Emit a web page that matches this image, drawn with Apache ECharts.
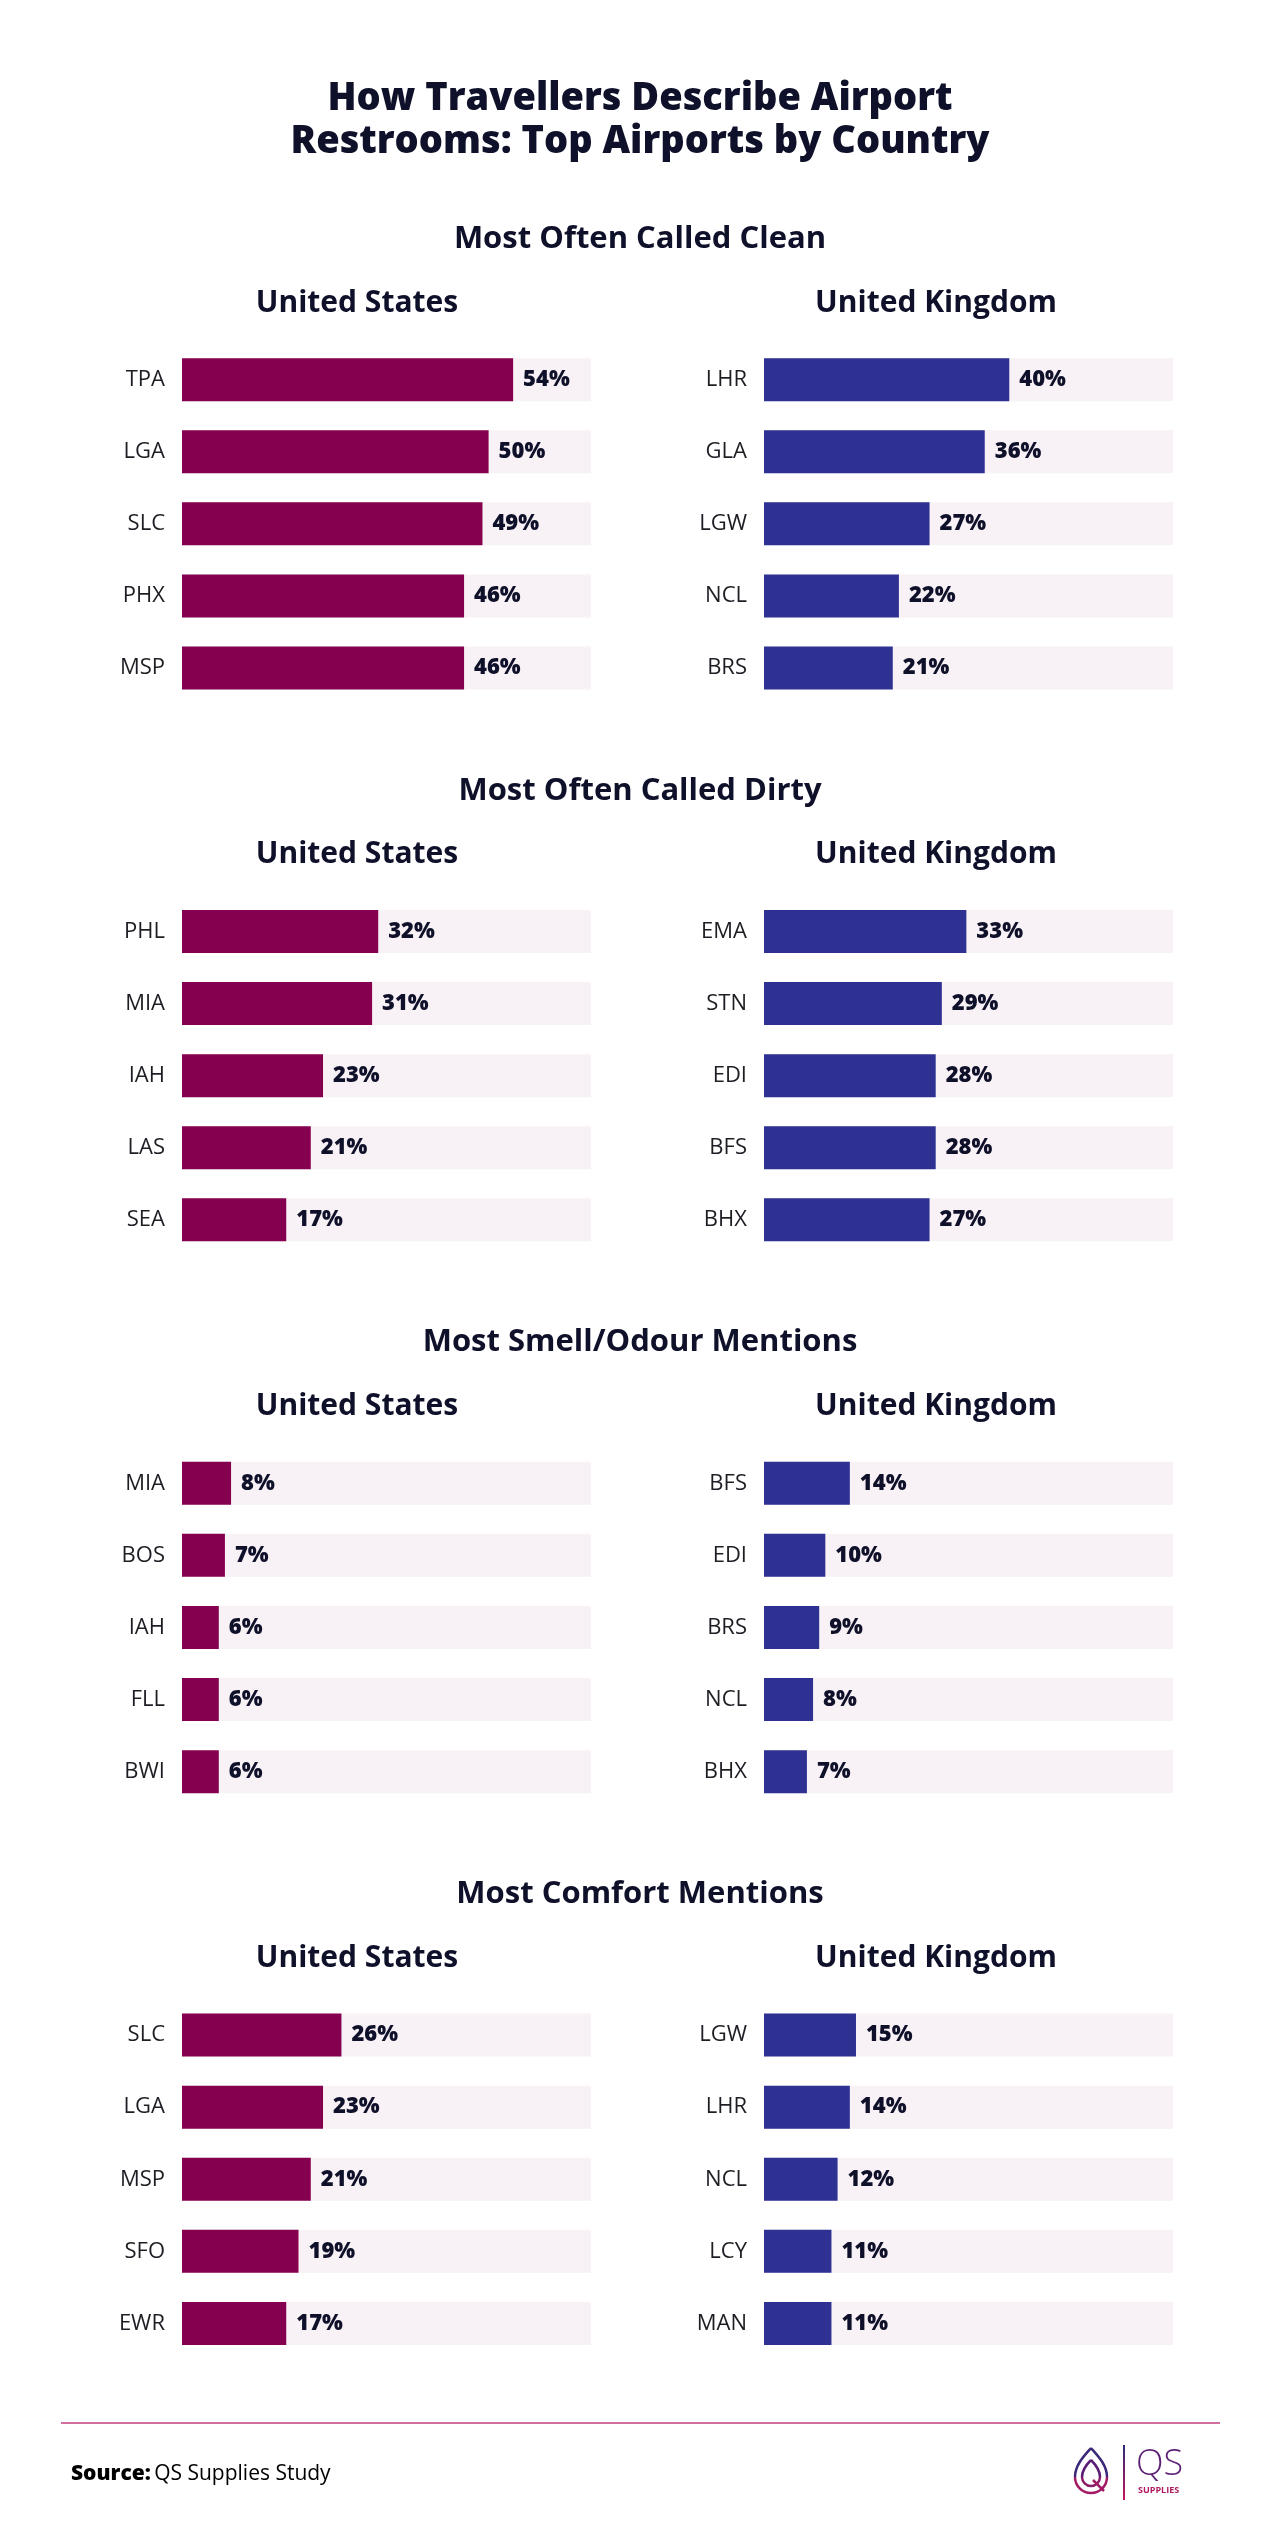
<!DOCTYPE html>
<html>
<head>
<meta charset="utf-8">
<script src="https://cdn.jsdelivr.net/npm/echarts@6/dist/echarts.min.js"></script>
<style>
  html, body { margin: 0; padding: 0; background: #fff; }
  #chart { width: 1280px; height: 2521px; }
</style>
</head>
<body>
<div id="chart"></div>
<script>
// section titles, top to bottom
const sections = ['Most Often Called Clean', 'Most Often Called Dirty', 'Most Smell/Odour Mentions', 'Most Comfort Mentions'];
const countries = ['United States', 'United Kingdom'];

// airports + shares (%) per section
const cleanUS = ['TPA', 'LGA', 'SLC', 'PHX', 'MSP'];
const cleanUSVal = [54, 50, 49, 46, 46];
const cleanUK = ['LHR', 'GLA', 'LGW', 'NCL', 'BRS'];
const cleanUKVal = [40, 36, 27, 22, 21];

const dirtyUS = ['PHL', 'MIA', 'IAH', 'LAS', 'SEA'];
const dirtyUSVal = [32, 31, 23, 21, 17];
const dirtyUK = ['EMA', 'STN', 'EDI', 'BFS', 'BHX'];
const dirtyUKVal = [33, 29, 28, 28, 27];

const smellUS = ['MIA', 'BOS', 'IAH', 'FLL', 'BWI'];
const smellUSVal = [8, 7, 6, 6, 6];
const smellUK = ['BFS', 'EDI', 'BRS', 'NCL', 'BHX'];
const smellUKVal = [14, 10, 9, 8, 7];

const comfortUS = ['SLC', 'LGA', 'MSP', 'SFO', 'EWR'];
const comfortUSVal = [26, 23, 21, 19, 17];
const comfortUK = ['LGW', 'LHR', 'NCL', 'LCY', 'MAN'];
const comfortUKVal = [15, 14, 12, 11, 11];

const AXIS_MAX = 66.7;

let blocks = [
  [cleanUS, cleanUSVal, cleanUK, cleanUKVal],
  [dirtyUS, dirtyUSVal, dirtyUK, dirtyUKVal],
  [smellUS, smellUSVal, smellUK, smellUKVal],
  [comfortUS, comfortUSVal, comfortUK, comfortUKVal]
];

const FONT = '"Open Sans", "Noto Sans", sans-serif';
const DARK = '#0f1029';
const US_COLOR = '#85004f';
const UK_COLOR = '#2e3192';
const STEP = 551.8;

let grid = [], xAxis = [], yAxis = [], series = [], graphic = [];

graphic.push({
  type: 'text', x: 640, y: 99,
  style: { text: 'How Travellers Describe Airport', font: '800 38px ' + FONT, fill: DARK, textAlign: 'center', textVerticalAlign: 'middle' }
});
graphic.push({
  type: 'text', x: 640, y: 142,
  style: { text: 'Restrooms: Top Airports by Country', font: '800 38px ' + FONT, fill: DARK, textAlign: 'center', textVerticalAlign: 'middle' }
});

blocks.forEach(function (b, i) {
  let off = i * STEP;
  graphic.push({
    type: 'text', x: 640, y: 239 + off,
    style: { text: sections[i], font: 'bold 31px ' + FONT, fill: DARK, textAlign: 'center', textVerticalAlign: 'middle' }
  });
  [0, 1].forEach(function (c) {
    let idx = i * 2 + c;
    let left = c === 0 ? 182 : 764;
    graphic.push({
      type: 'text', x: c === 0 ? 357 : 936, y: 303 + off,
      style: { text: countries[c], font: 'bold 30px ' + FONT, fill: DARK, textAlign: 'center', textVerticalAlign: 'middle' }
    });
    grid.push({ left: left, width: 409, top: 343.6 + off, height: 360.5 });
    xAxis.push({ gridIndex: idx, type: 'value', min: 0, max: AXIS_MAX, show: false });
    yAxis.push({
      gridIndex: idx,
      type: 'category',
      inverse: true,
      data: b[c * 2],
      axisLine: { show: false },
      axisTick: { show: false },
      splitLine: { show: false },
      axisLabel: { margin: 17, fontSize: 22, fontFamily: FONT, color: '#1d1d24' }
    });
    series.push({
      type: 'bar',
      xAxisIndex: idx,
      yAxisIndex: idx,
      data: b[c * 2 + 1],
      barWidth: 43,
      showBackground: true,
      backgroundStyle: { color: '#f8f1f5' },
      itemStyle: { color: c === 0 ? US_COLOR : UK_COLOR },
      label: {
        show: true,
        position: 'right',
        distance: 10,
        formatter: '{c}%',
        fontSize: 22,
        fontWeight: 800,
        fontFamily: FONT,
        color: DARK
      },
      animation: false
    });
  });
});

// footer
graphic.push({
  type: 'line', shape: { x1: 61, y1: 2423, x2: 1220, y2: 2423 },
  style: { stroke: '#c0407e', lineWidth: 1.5 }
});
graphic.push({
  type: 'text', x: 71, y: 2474,
  style: {
    text: '{b|Source:} {r|QS Supplies Study}',
    textVerticalAlign: 'middle',
    rich: {
      b: { fontFamily: FONT, fontSize: 21, fontWeight: 800, color: DARK },
      r: { fontFamily: FONT, fontSize: 21, color: '#1d1d24' }
    }
  }
});

// logo, drawn from simple shapes
let logoGrad = new echarts.graphic.LinearGradient(0, 0, 0, 1, [
  { offset: 0, color: '#2b2a78' },
  { offset: 1, color: '#c2185b' }
]);
let logoStroke = { fill: 'none', stroke: '#5a1f74', lineWidth: 2.5 };
graphic.push({ type: 'arc', shape: { cx: 1091, cy: 2477, r: 16, startAngle: 0, endAngle: Math.PI }, style: { fill: 'none', stroke: '#a21a63', lineWidth: 2.5 } });
graphic.push({ type: 'bezierCurve', shape: { x1: 1075, y1: 2477, cpx1: 1075, cpy1: 2465, x2: 1091, y2: 2448, cpx2: 1084, cpy2: 2456 }, style: { fill: 'none', stroke: '#3b2878', lineWidth: 2.5 } });
graphic.push({ type: 'bezierCurve', shape: { x1: 1107, y1: 2477, cpx1: 1107, cpy1: 2465, x2: 1091, y2: 2448, cpx2: 1098, cpy2: 2456 }, style: { fill: 'none', stroke: '#3b2878', lineWidth: 2.5 } });
graphic.push({ type: 'arc', shape: { cx: 1091, cy: 2477, r: 9, startAngle: 0, endAngle: Math.PI }, style: { fill: 'none', stroke: '#8a1c68', lineWidth: 2.5 } });
graphic.push({ type: 'bezierCurve', shape: { x1: 1082, y1: 2477, cpx1: 1082, cpy1: 2470, x2: 1091, y2: 2460, cpx2: 1087, cpy2: 2464 }, style: logoStroke });
graphic.push({ type: 'bezierCurve', shape: { x1: 1100, y1: 2477, cpx1: 1100, cpy1: 2470, x2: 1091, y2: 2460, cpx2: 1095, cpy2: 2464 }, style: logoStroke });
graphic.push({ type: 'line', shape: { x1: 1093, y1: 2480, x2: 1104, y2: 2491 }, style: { stroke: '#a21a63', lineWidth: 2.5 } });
graphic.push({
  type: 'rect', shape: { x: 1123, y: 2445, width: 2, height: 55 },
  style: { fill: logoGrad }
});
graphic.push({
  type: 'text', x: 1136, y: 2465,
  style: { text: 'QS', font: '300 36px ' + FONT, fill: '#5b1f74', textVerticalAlign: 'middle' }
});
graphic.push({
  type: 'text', x: 1138, y: 2490,
  style: { text: 'SUPPLIES', font: 'bold 9px ' + FONT, fill: '#b0195f', textVerticalAlign: 'middle' }
});

let myChart = echarts.init(document.getElementById('chart'));
myChart.setOption({
  backgroundColor: '#ffffff',
  animation: false,
  grid: grid,
  xAxis: xAxis,
  yAxis: yAxis,
  series: series,
  graphic: graphic
});
</script>
</body>
</html>
